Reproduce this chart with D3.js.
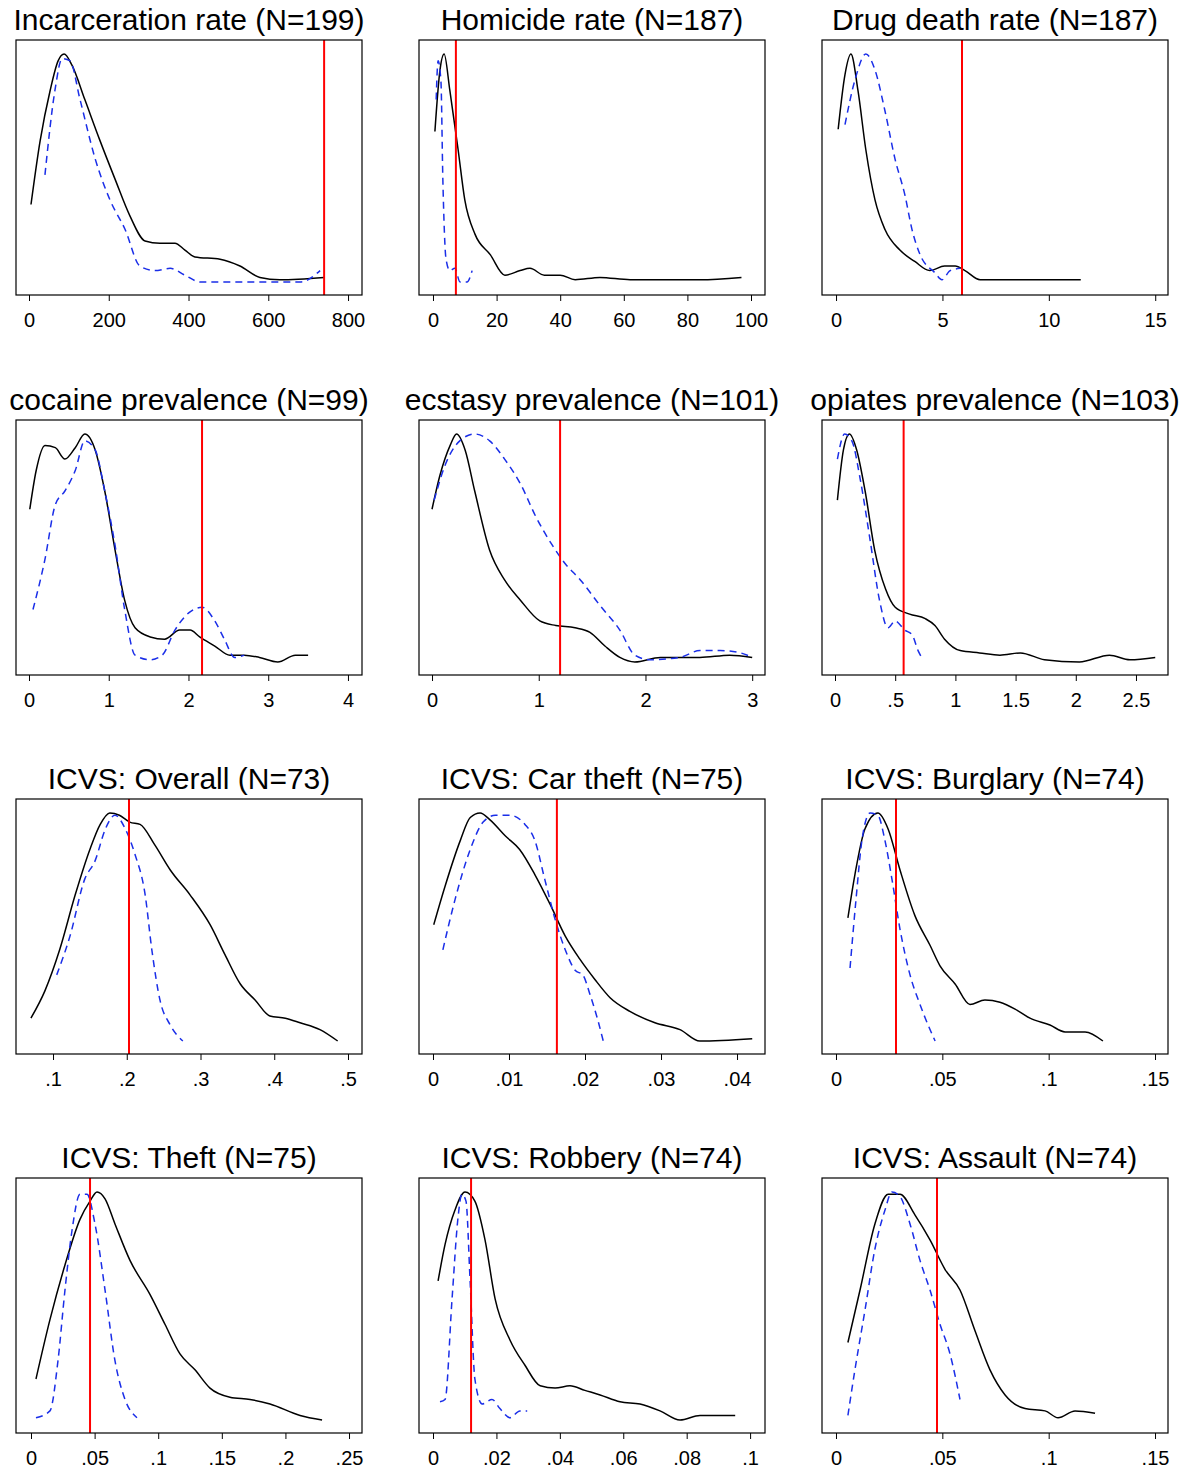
<!DOCTYPE html>
<html><head><meta charset="utf-8">
<script src="https://cdn.jsdelivr.net/npm/d3@7"></script>
<style>body{margin:0;background:#fff}</style>
</head><body>
<script>
// panel titles, x domains, ticks and reference line
const titles = ["Incarceration rate (N=199)","Homicide rate (N=187)","Drug death rate (N=187)",
  "cocaine prevalence (N=99)","ecstasy prevalence (N=101)","opiates prevalence (N=103)",
  "ICVS: Overall (N=73)","ICVS: Car theft (N=75)","ICVS: Burglary (N=74)",
  "ICVS: Theft (N=75)","ICVS: Robbery (N=74)","ICVS: Assault (N=74)"];
const domains = [[-32.6,835],[-4.4,104.4],[-0.66,15.6],[-0.163,4.176],[-0.122,3.12],[-0.108,2.766],
  [0.0498,0.519],[-0.00184,0.04368],[-0.00658,0.1561],[-0.0118,0.2602],[-0.00442,0.1047],[-0.00658,0.1561]];
const ticks = [[0,200,400,600,800],[0,20,40,60,80,100],[0,5,10,15],[0,1,2,3,4],[0,1,2,3],[0,.5,1,1.5,2,2.5],
  [.1,.2,.3,.4,.5],[0,.01,.02,.03,.04],[0,.05,.1,.15],[0,.05,.1,.15,.2,.25],[0,.02,.04,.06,.08,.1],[0,.05,.1,.15]];
const redLine = [740,7.2,5.92,2.17,1.2,0.57,0.203,0.0163,0.0282,0.0464,0.012,0.0475];

// density curves (x, scaled density)
const black = [
 [[5,.34],[28,.62],[53,.84],[73,.97],[88,1],[108,.95],[140,.8],[178,.62],[216,.45],[253,.29],[291,.18],[328,.17],[366,.17],[391,.14],[416,.11],[479,.1],[529,.07],[579,.02],[629,.01],[740,.02]],
 [[.6,.66],[2.2,.93],[3.5,1],[5.3,.84],[7.9,.58],[10,.36],[13.2,.21],[18,.12],[22.6,.03],[27.4,.05],[30.5,.06],[35,.03],[40,.03],[44.7,.01],[52.5,.02],[62,.01],[84,.01],[97,.02]],
 [[.1,.67],[.42,.91],[.7,1],[1.03,.84],[1.4,.58],[1.83,.36],[2.3,.23],[3,.14],[3.7,.09],[4.4,.05],[5.1,.07],[5.6,.07],[6.06,.05],[6.77,.01],[7.7,.01],[10.1,.01],[11.5,.01]],
 [[.01,.67],[.09,.84],[.2,.95],[.33,.94],[.45,.89],[.58,.94],[.7,1],[.83,.93],[.95,.75],[1.08,.49],[1.2,.27],[1.33,.15],[1.52,.11],[1.7,.1],[1.89,.14],[2.02,.14],[2.14,.11],[2.33,.07],[2.52,.03],[2.7,.03],[2.89,.02],[3.12,0],[3.34,.03],[3.5,.03]],
 [[0,.67],[.075,.82],[.17,.95],[.23,1],[.31,.93],[.4,.75],[.54,.49],[.68,.36],[.83,.27],[1.01,.18],[1.16,.16],[1.34,.15],[1.48,.13],[1.62,.07],[1.76,.02],[1.9,0],[2.14,.02],[2.51,.02],[2.79,.03],[3,.02]],
 [[.02,.71],[.07,.93],[.12,1],[.18,.93],[.25,.75],[.33,.49],[.42,.32],[.5,.24],[.62,.21],[.75,.19],[.83,.16],[.91,.1],[1.04,.05],[1.2,.04],[1.37,.03],[1.54,.04],[1.74,.01],[2.03,0],[2.28,.03],[2.45,.01],[2.66,.02]],
 [[.07,.1],[.089,.22],[.109,.4],[.13,.64],[.15,.84],[.164,.95],[.177,1],[.19,.99],[.204,.96],[.218,.95],[.238,.86],[.259,.75],[.286,.64],[.313,.51],[.333,.38],[.354,.25],[.374,.18],[.394,.11],[.415,.1],[.435,.08],[.462,.05],[.486,0]],
 [[.0001,.51],[.0016,.68],[.0036,.88],[.0049,.98],[.0062,1],[.0075,.97],[.0095,.9],[.0114,.84],[.0134,.73],[.0154,.6],[.0174,.46],[.0193,.36],[.0213,.27],[.0233,.19],[.0259,.13],[.0292,.08],[.0325,.05],[.0351,0],[.042,.01]],
 [[.0056,.54],[.0089,.73],[.0136,.93],[.0197,1],[.0245,.93],[.0301,.75],[.0371,.55],[.0442,.42],[.0489,.33],[.056,.25],[.063,.16],[.07,.18],[.0771,.17],[.0842,.14],[.0912,.1],[.1006,.07],[.1077,.04],[.1171,.04],[.1255,0]],
 [[.0039,.18],[.0149,.44],[.0267,.68],[.0385,.88],[.0464,.96],[.0519,1],[.0582,.97],[.066,.86],[.0778,.7],[.0936,.55],[.1053,.42],[.1171,.29],[.1289,.22],[.1407,.14],[.1564,.1],[.1722,.09],[.1879,.07],[.2115,.02],[.2288,0]],
 [[.0016,.61],[.0038,.77],[.0069,.92],[.0101,1],[.0132,.96],[.0164,.79],[.0196,.53],[.0243,.35],[.029,.24],[.0338,.15],[.0385,.14],[.0432,.15],[.0479,.13],[.0527,.11],[.059,.08],[.0653,.07],[.0716,.04],[.0779,0],[.0842,.02],[.0953,.02]],
 [[.0056,.34],[.0113,.57],[.0183,.86],[.0245,.99],[.0301,.99],[.0371,.9],[.0442,.79],[.0513,.66],[.0583,.57],[.0654,.39],[.0724,.22],[.0795,.11],[.0889,.05],[.0983,.04],[.1044,.01],[.1124,.04],[.1218,.03]]
];
const blue = [
 [[40,.47],[65,.84],[83,.98],[103,.97],[128,.8],[166,.54],[203,.36],[241,.23],[278,.07],[316,.05],[354,.06],[391,.03],[429,0],[680,0],[730,.05]],
 [[1,.8],[1.6,.97],[2.5,.88],[3.1,.45],[4.1,.1],[5.3,.05],[6.9,.06],[8.5,0],[10.7,0],[12.3,.05]],
 [[.42,.69],[.9,.89],[1.4,1],[1.83,.93],[2.3,.75],[2.77,.54],[3.24,.38],[3.57,.23],[3.95,.12],[4.65,.04],[4.98,.01],[5.36,.05],[5.83,.06]],
 [[.05,.23],[.2,.45],[.33,.69],[.45,.75],[.58,.84],[.7,.97],[.83,.93],[.95,.75],[1.08,.51],[1.2,.23],[1.33,.03],[1.52,.01],[1.67,.03],[1.83,.14],[2.02,.22],[2.17,.24],[2.33,.18],[2.45,.1],[2.58,.02],[2.7,.03]],
 [[.02,.71],[.12,.86],[.26,.97],[.4,1],[.54,.97],[.68,.89],[.83,.78],[.97,.64],[1.13,.51],[1.25,.43],[1.39,.36],[1.57,.25],[1.76,.14],[1.9,.03],[2.04,.01],[2.32,.02],[2.51,.05],[2.7,.05],[2.89,.04],[3,.02]],
 [[.02,.89],[.08,1],[.14,.97],[.21,.8],[.29,.54],[.37,.27],[.44,.15],[.5,.18],[.58,.14],[.64,.12],[.69,.05],[.72,.02]],
 [[.105,.29],[.123,.46],[.143,.71],[.157,.79],[.171,.93],[.184,.99],[.198,.93],[.211,.82],[.225,.64],[.234,.4],[.245,.18],[.259,.07],[.276,0]],
 [[.0013,.4],[.0029,.62],[.0049,.84],[.0066,.96],[.0082,.99],[.0101,.99],[.0121,.95],[.0134,.88],[.0147,.71],[.0161,.53],[.0174,.4],[.0187,.31],[.0197,.29],[.0207,.2],[.0217,.09],[.0224,0]],
 [[.0066,.32],[.0094,.62],[.0122,.88],[.016,1],[.0197,.99],[.023,.88],[.0263,.71],[.0301,.49],[.0348,.29],[.0395,.16],[.0433,.07],[.0466,0]],
 [[.0039,.01],[.0149,.04],[.0212,.26],[.0267,.57],[.0322,.83],[.0385,.99],[.044,.99],[.0503,.86],[.0582,.57],[.066,.26],[.0739,.09],[.0833,.01]],
 [[.0022,.08],[.0038,.09],[.006,.53],[.0079,.89],[.0091,.99],[.0104,.96],[.0117,.61],[.0132,.18],[.0155,.07],[.0186,.09],[.0211,.05],[.0243,.01],[.0274,.04],[.0297,.04]],
 [[.0056,.02],[.0089,.22],[.0136,.48],[.0183,.75],[.023,.92],[.0263,1],[.0301,.98],[.0348,.86],[.0395,.7],[.0442,.57],[.0489,.42],[.0536,.29],[.0583,.09]]
];

const W = 1194, H = 1471;
const colX = [16, 419, 822], rowY = [40, 420, 799, 1178];
const bw = 346, bh = 255;
const font = "'Liberation Sans', Arial, sans-serif";
const fmt = v => String(v).replace(/^0\./, ".");

const svg = d3.select("body").append("svg").attr("width", W).attr("height", H);

titles.forEach((t, i) => {
  const g = svg.append("g")
    .attr("transform", `translate(${colX[i % 3]},${rowY[Math.floor(i / 3)]})`);
  const x = d3.scaleLinear().domain(domains[i]).range([0, bw]);
  const y = d3.scaleLinear().domain([0, 1]).range([bh - 13, 14]);
  const line = d3.line().x(d => x(d[0])).y(d => y(d[1])).curve(d3.curveMonotoneX);

  g.append("text").attr("x", bw / 2).attr("y", -10).attr("text-anchor", "middle")
    .attr("font-family", font).attr("font-size", 30).text(t);

  g.append("path").attr("d", line(black[i])).attr("fill", "none")
    .attr("stroke", "#000").attr("stroke-width", 1.5);
  g.append("path").attr("d", line(blue[i])).attr("fill", "none")
    .attr("stroke", "#1a2ee8").attr("stroke-width", 1.5).attr("stroke-dasharray", "7,5");
  g.append("line").attr("x1", x(redLine[i])).attr("x2", x(redLine[i]))
    .attr("y1", 0).attr("y2", bh).attr("stroke", "#ff0000").attr("stroke-width", 2);

  g.append("rect").attr("width", bw).attr("height", bh)
    .attr("fill", "none").attr("stroke", "#000").attr("stroke-width", 1.2);

  const ax = g.append("g").attr("transform", `translate(0,${bh})`)
    .call(d3.axisBottom(x).tickValues(ticks[i]).tickFormat(fmt).tickSize(6).tickSizeOuter(0));
  ax.select(".domain").remove();
  ax.selectAll("text").attr("font-family", font).attr("font-size", 20).attr("dy", "1.15em");
});
</script>
</body></html>
